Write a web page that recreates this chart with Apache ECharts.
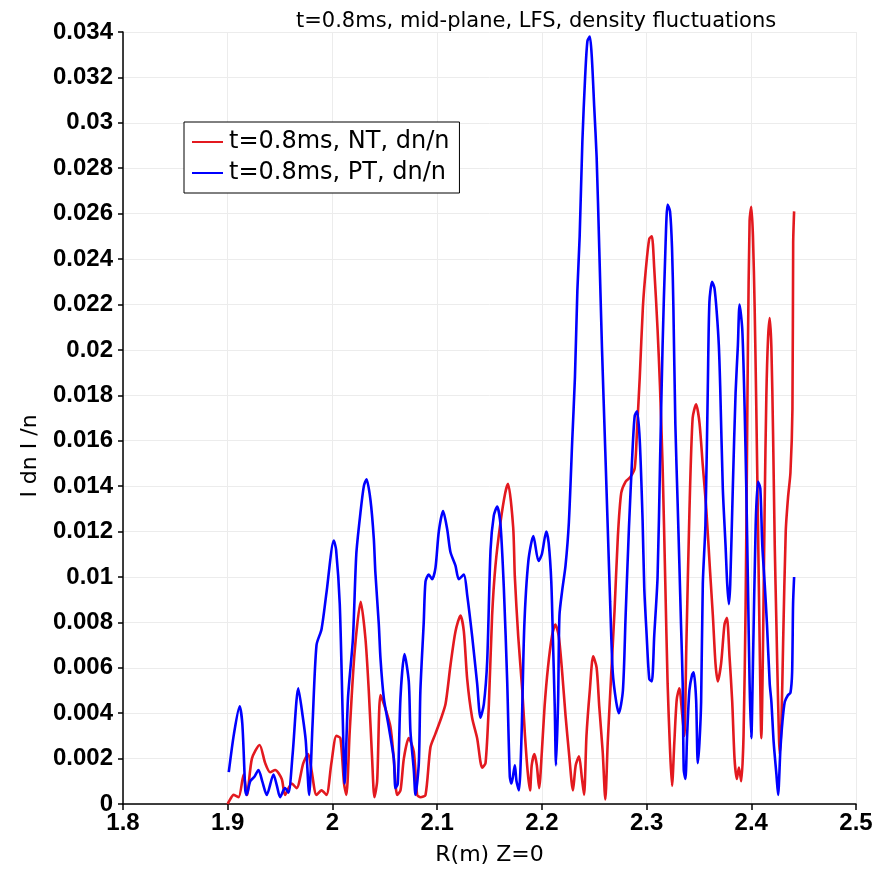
<!DOCTYPE html>
<html>
<head>
<meta charset="utf-8">
<script src="https://cdn.jsdelivr.net/npm/echarts@6/dist/echarts.min.js"></script>
<style>
html,body{margin:0;padding:0;background:#fff;}
#c{width:889px;height:871px;}
</style>
</head>
<body>
<div id="c"></div>
<script>
// ---- data ----
const titleText = 't=0.8ms, mid-plane, LFS, density fluctuations';
const xName = 'R(m) Z=0';
const yName = 'I dn I /n';
const seriesNames = ['t=0.8ms, NT, dn/n', 't=0.8ms, PT, dn/n'];

const rNT = [1.9000,1.9010,1.9057,1.9104,1.9152,1.9184,1.9231,1.9304,1.9358,1.9405,1.9453,1.9516,1.9547,1.9611,1.9658,1.9722,1.9769,1.9800,1.9848,1.9896,1.9943,1.9990,2.0038,2.0076,2.0111,2.0133,2.0165,2.0212,2.0270,2.0315,2.0347,2.0379,2.0401,2.0427,2.0459,2.0506,2.0554,2.0586,2.0618,2.0650,2.0682,2.0729,2.0777,2.0809,2.0841,2.0889,2.0936,2.0984,2.1032,2.1080,2.1127,2.1175,2.1223,2.1255,2.1287,2.1334,2.1382,2.1430,2.1462,2.1494,2.1525,2.1557,2.1605,2.1650,2.1677,2.1726,2.1742,2.1774,2.1813,2.1839,2.1865,2.1887,2.1903,2.1929,2.1952,2.1974,2.2000,2.2026,2.2058,2.2097,2.2129,2.2161,2.2194,2.2226,2.2258,2.2297,2.2323,2.2355,2.2381,2.2403,2.2426,2.2458,2.2490,2.2523,2.2548,2.2581,2.2606,2.2629,2.2661,2.2694,2.2726,2.2758,2.2800,2.2845,2.2887,2.2910,2.2935,2.2965,2.2994,2.3026,2.3050,2.3073,2.3105,2.3128,2.3153,2.3179,2.3201,2.3224,2.3243,2.3265,2.3288,2.3313,2.3339,2.3360,2.3380,2.3410,2.3440,2.3473,2.3505,2.3537,2.3570,2.3607,2.3633,2.3658,2.3680,2.3712,2.3744,2.3767,2.3792,2.3818,2.3840,2.3862,2.3882,2.3904,2.3926,2.3946,2.3958,2.3968,2.3984,2.4000,2.4016,2.4032,2.4048,2.4064,2.4080,2.4096,2.4112,2.4128,2.4144,2.4160,2.4176,2.4192,2.4208,2.4224,2.4240,2.4256,2.4272,2.4288,2.4304,2.4329,2.4351,2.4374,2.4393,2.4400,2.4409];
const vNT = [0.0000,0.0001,0.0004,0.0003,0.0013,0.0004,0.0020,0.0026,0.0018,0.0014,0.0015,0.0011,0.0004,0.0009,0.0007,0.0018,0.0022,0.0015,0.0004,0.0006,0.0004,0.0018,0.0030,0.0029,0.0009,0.0004,0.0032,0.0067,0.0089,0.0073,0.0050,0.0020,0.0003,0.0010,0.0048,0.0042,0.0034,0.0020,0.0004,0.0006,0.0020,0.0029,0.0023,0.0004,0.0003,0.0004,0.0025,0.0031,0.0037,0.0044,0.0061,0.0076,0.0083,0.0076,0.0055,0.0038,0.0029,0.0016,0.0018,0.0044,0.0083,0.0105,0.0124,0.0137,0.0141,0.0122,0.0100,0.0074,0.0050,0.0030,0.0014,0.0006,0.0017,0.0022,0.0017,0.0007,0.0023,0.0043,0.0060,0.0074,0.0079,0.0074,0.0058,0.0039,0.0023,0.0006,0.0017,0.0021,0.0012,0.0004,0.0030,0.0050,0.0065,0.0060,0.0043,0.0023,0.0002,0.0027,0.0056,0.0085,0.0118,0.0137,0.0142,0.0144,0.0148,0.0166,0.0188,0.0219,0.0236,0.0249,0.0250,0.0236,0.0209,0.0184,0.0149,0.0097,0.0053,0.0024,0.0008,0.0027,0.0046,0.0051,0.0040,0.0030,0.0070,0.0130,0.0170,0.0176,0.0168,0.0149,0.0130,0.0102,0.0083,0.0062,0.0054,0.0062,0.0079,0.0082,0.0065,0.0045,0.0020,0.0011,0.0016,0.0010,0.0030,0.0088,0.0149,0.0202,0.0257,0.0263,0.0250,0.0219,0.0174,0.0123,0.0071,0.0029,0.0070,0.0132,0.0180,0.0205,0.0214,0.0201,0.0163,0.0114,0.0079,0.0045,0.0022,0.0036,0.0071,0.0120,0.0135,0.0146,0.0174,0.0247,0.0261];

const rPT = [1.9010,1.9060,1.9114,1.9140,1.9168,1.9180,1.9215,1.9255,1.9294,1.9330,1.9373,1.9437,1.9470,1.9500,1.9547,1.9580,1.9620,1.9674,1.9715,1.9745,1.9778,1.9810,1.9848,1.9896,1.9943,2.0013,2.0035,2.0070,2.0098,2.0117,2.0149,2.0196,2.0228,2.0267,2.0300,2.0325,2.0363,2.0395,2.0410,2.0443,2.0459,2.0490,2.0538,2.0586,2.0602,2.0624,2.0650,2.0688,2.0729,2.0745,2.0777,2.0793,2.0825,2.0840,2.0872,2.0889,2.0920,2.0952,2.0984,2.1016,2.1057,2.1096,2.1127,2.1175,2.1207,2.1255,2.1287,2.1334,2.1382,2.1414,2.1446,2.1478,2.1510,2.1541,2.1573,2.1605,2.1637,2.1669,2.1694,2.1710,2.1742,2.1758,2.1781,2.1806,2.1832,2.1871,2.1919,2.1968,2.2000,2.2042,2.2065,2.2090,2.2106,2.2123,2.2135,2.2155,2.2168,2.2194,2.2226,2.2258,2.2290,2.2316,2.2339,2.2361,2.2387,2.2413,2.2435,2.2458,2.2477,2.2500,2.2523,2.2548,2.2574,2.2606,2.2629,2.2652,2.2677,2.2710,2.2735,2.2774,2.2800,2.2832,2.2865,2.2887,2.2910,2.2935,2.2962,2.2978,2.3000,2.3026,2.3050,2.3073,2.3105,2.3128,2.3153,2.3179,2.3201,2.3224,2.3243,2.3256,2.3275,2.3297,2.3313,2.3329,2.3345,2.3355,2.3371,2.3387,2.3409,2.3435,2.3450,2.3473,2.3489,2.3505,2.3521,2.3537,2.3562,2.3585,2.3600,2.3626,2.3649,2.3671,2.3690,2.3703,2.3728,2.3754,2.3770,2.3786,2.3799,2.3824,2.3850,2.3872,2.3888,2.3914,2.3936,2.3952,2.3968,2.3984,2.4000,2.4016,2.4042,2.4064,2.4086,2.4105,2.4128,2.4150,2.4176,2.4192,2.4214,2.4240,2.4256,2.4278,2.4297,2.4320,2.4351,2.4374,2.4390,2.4399,2.4409];
const vPT = [0.0014,0.0031,0.0043,0.0035,0.0006,0.0004,0.0010,0.0012,0.0015,0.0010,0.0004,0.0013,0.0008,0.0003,0.0007,0.0005,0.0022,0.0051,0.0039,0.0028,0.0004,0.0035,0.0070,0.0077,0.0093,0.0116,0.0112,0.0088,0.0039,0.0009,0.0047,0.0073,0.0110,0.0128,0.0140,0.0143,0.0134,0.0117,0.0102,0.0079,0.0064,0.0047,0.0034,0.0020,0.0007,0.0009,0.0047,0.0066,0.0054,0.0032,0.0015,0.0004,0.0018,0.0050,0.0080,0.0098,0.0101,0.0099,0.0104,0.0120,0.0129,0.0121,0.0111,0.0105,0.0099,0.0101,0.0092,0.0074,0.0053,0.0038,0.0044,0.0063,0.0112,0.0127,0.0131,0.0123,0.0095,0.0054,0.0012,0.0009,0.0017,0.0010,0.0006,0.0030,0.0078,0.0107,0.0118,0.0107,0.0110,0.0120,0.0115,0.0098,0.0072,0.0043,0.0017,0.0045,0.0083,0.0094,0.0105,0.0124,0.0160,0.0188,0.0226,0.0250,0.0292,0.0320,0.0336,0.0338,0.0329,0.0307,0.0285,0.0245,0.0201,0.0155,0.0122,0.0089,0.0058,0.0045,0.0040,0.0050,0.0083,0.0122,0.0155,0.0171,0.0173,0.0160,0.0125,0.0095,0.0075,0.0055,0.0054,0.0074,0.0100,0.0149,0.0202,0.0243,0.0264,0.0261,0.0245,0.0219,0.0167,0.0132,0.0106,0.0079,0.0053,0.0015,0.0011,0.0030,0.0050,0.0057,0.0058,0.0046,0.0018,0.0027,0.0045,0.0097,0.0123,0.0184,0.0221,0.0230,0.0227,0.0216,0.0202,0.0184,0.0139,0.0114,0.0097,0.0088,0.0097,0.0140,0.0181,0.0202,0.0220,0.0209,0.0175,0.0140,0.0097,0.0053,0.0029,0.0062,0.0123,0.0142,0.0139,0.0114,0.0097,0.0079,0.0053,0.0045,0.0027,0.0013,0.0004,0.0024,0.0036,0.0045,0.0048,0.0049,0.0058,0.0088,0.0100];

const xMin = 1.8, xMax = 2.5, xStep = 0.1;
const yMin = 0, yMax = 0.034, yStep = 0.002;

// ---- chart ----
const TICKFONT = 'Liberation Sans';
const TEXTFONT = 'DejaVu Sans';
const zip = (a, b) => a.map((x, i) => [x, b[i]]);
const fmt = v => String(Number(v.toFixed(4)));

const chart = echarts.init(document.getElementById('c'), null, {renderer: 'canvas'});
chart.setOption({
  animation: false,
  backgroundColor: '#fff',
  title: {
    text: titleText, left: 291, top: 6,
    textStyle: {fontFamily: TEXTFONT, fontSize: 21, fontWeight: 'normal', color: '#000'}
  },
  legend: {
    orient: 'vertical', left: 184, top: 122,
    padding: [8, 10, 8, 8], itemGap: 7, itemWidth: 31, itemHeight: 2,
    icon: 'rect',
    backgroundColor: '#fff', borderColor: '#000', borderWidth: 1, borderRadius: 0,
    textStyle: {fontFamily: TEXTFONT, fontSize: 24, color: '#000', padding: [0, 0, 0, 1]},
    data: seriesNames
  },
  grid: {left: 123, right: 33, top: 32, bottom: 62, containLabel: false},
  xAxis: {
    type: 'value', min: xMin, max: xMax, interval: xStep,
    name: xName, nameLocation: 'middle', nameGap: 40,
    nameTextStyle: {fontFamily: TEXTFONT, fontSize: 22, color: '#000'},
    axisLine: {show: true, onZero: false, lineStyle: {color: '#000', width: 1.5}},
    axisTick: {show: true, inside: false, length: 6, lineStyle: {color: '#000', width: 1.5}},
    axisLabel: {fontFamily: TICKFONT, fontSize: 24, fontWeight: 'bold', color: '#000', margin: 7, formatter: fmt},
    splitLine: {show: true, lineStyle: {color: '#ececec', width: 1}}
  },
  yAxis: {
    type: 'value', min: yMin, max: yMax, interval: yStep,
    name: yName, nameLocation: 'middle', nameGap: 82,
    nameTextStyle: {fontFamily: TEXTFONT, fontSize: 22, color: '#000', padding: [0, 76, 0, 0]},
    axisLine: {show: true, onZero: false, lineStyle: {color: '#000', width: 1.5}},
    axisTick: {show: true, inside: false, length: 5, lineStyle: {color: '#000', width: 1.5}},
    axisLabel: {fontFamily: TICKFONT, fontSize: 24, fontWeight: 'bold', color: '#000', margin: 10, formatter: fmt},
    splitLine: {show: true, lineStyle: {color: '#ececec', width: 1}}
  },
  series: [
    {name: seriesNames[0], type: 'line', data: zip(rNT, vNT), showSymbol: false, smooth: 0.25,
     lineStyle: {color: '#e3191f', width: 2.6}, itemStyle: {color: '#e3191f'}},
    {name: seriesNames[1], type: 'line', data: zip(rPT, vPT), showSymbol: false, smooth: 0.25,
     lineStyle: {color: '#0000ff', width: 2.6}, itemStyle: {color: '#0000ff'}, z: 3}
  ]
});
</script>
</body>
</html>
